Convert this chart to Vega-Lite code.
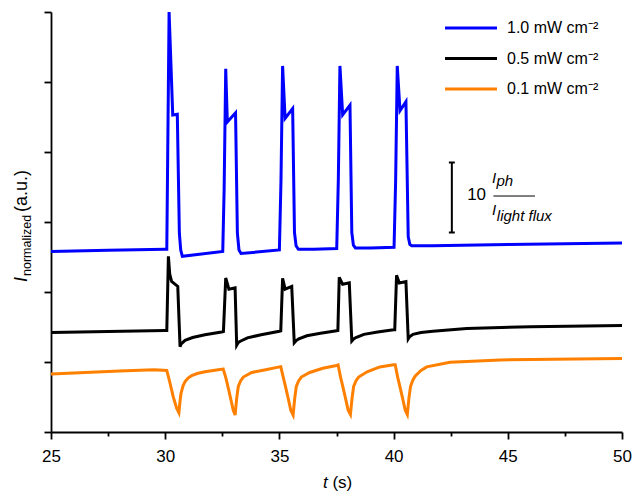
{
  "$schema": "https://vega.github.io/schema/vega-lite/v6.json",
  "width": 571,
  "height": 420,
  "autosize": {"type": "none"},
  "padding": {"left": 51, "top": 12, "right": 11, "bottom": 61},
  "config": {"view": {"stroke": null}, "font": "Liberation Sans"},
  "datasets": {
    "traces": [
      {"s": "1.0 mW cm⁻²", "t": 25.0, "v": 25.8},
      {"s": "1.0 mW cm⁻²", "t": 27.5, "v": 25.95},
      {"s": "1.0 mW cm⁻²", "t": 30.0, "v": 26.1},
      {"s": "1.0 mW cm⁻²", "t": 30.07, "v": 26.1},
      {"s": "1.0 mW cm⁻²", "t": 30.17, "v": 60},
      {"s": "1.0 mW cm⁻²", "t": 30.33, "v": 45.3},
      {"s": "1.0 mW cm⁻²", "t": 30.53, "v": 45.4},
      {"s": "1.0 mW cm⁻²", "t": 30.62, "v": 28.4},
      {"s": "1.0 mW cm⁻²", "t": 30.68, "v": 26.0},
      {"s": "1.0 mW cm⁻²", "t": 30.75, "v": 25.1},
      {"s": "1.0 mW cm⁻²", "t": 31.5, "v": 25.4},
      {"s": "1.0 mW cm⁻²", "t": 32.52, "v": 25.8},
      {"s": "1.0 mW cm⁻²", "t": 32.58, "v": 34.6},
      {"s": "1.0 mW cm⁻²", "t": 32.65, "v": 51.9},
      {"s": "1.0 mW cm⁻²", "t": 32.72, "v": 44.3},
      {"s": "1.0 mW cm⁻²", "t": 33.08, "v": 45.6},
      {"s": "1.0 mW cm⁻²", "t": 33.16, "v": 28.4},
      {"s": "1.0 mW cm⁻²", "t": 33.23, "v": 26.0},
      {"s": "1.0 mW cm⁻²", "t": 33.32, "v": 25.5},
      {"s": "1.0 mW cm⁻²", "t": 34.0, "v": 25.7},
      {"s": "1.0 mW cm⁻²", "t": 35.0, "v": 26.0},
      {"s": "1.0 mW cm⁻²", "t": 35.07, "v": 36},
      {"s": "1.0 mW cm⁻²", "t": 35.14, "v": 52.3},
      {"s": "1.0 mW cm⁻²", "t": 35.25, "v": 44.8},
      {"s": "1.0 mW cm⁻²", "t": 35.58, "v": 46.2},
      {"s": "1.0 mW cm⁻²", "t": 35.66, "v": 28.5},
      {"s": "1.0 mW cm⁻²", "t": 35.73, "v": 26.6},
      {"s": "1.0 mW cm⁻²", "t": 35.83, "v": 26.1},
      {"s": "1.0 mW cm⁻²", "t": 36.5, "v": 26.1},
      {"s": "1.0 mW cm⁻²", "t": 37.51, "v": 26.2},
      {"s": "1.0 mW cm⁻²", "t": 37.58, "v": 36},
      {"s": "1.0 mW cm⁻²", "t": 37.65, "v": 52.3},
      {"s": "1.0 mW cm⁻²", "t": 37.77, "v": 45.3},
      {"s": "1.0 mW cm⁻²", "t": 38.09, "v": 46.7},
      {"s": "1.0 mW cm⁻²", "t": 38.17, "v": 28.5},
      {"s": "1.0 mW cm⁻²", "t": 38.24, "v": 26.7},
      {"s": "1.0 mW cm⁻²", "t": 38.33, "v": 26.3},
      {"s": "1.0 mW cm⁻²", "t": 39.0, "v": 26.3},
      {"s": "1.0 mW cm⁻²", "t": 40.02, "v": 26.4},
      {"s": "1.0 mW cm⁻²", "t": 40.09, "v": 36},
      {"s": "1.0 mW cm⁻²", "t": 40.16, "v": 52.3},
      {"s": "1.0 mW cm⁻²", "t": 40.28, "v": 45.9},
      {"s": "1.0 mW cm⁻²", "t": 40.54, "v": 47.2},
      {"s": "1.0 mW cm⁻²", "t": 40.64, "v": 27.9},
      {"s": "1.0 mW cm⁻²", "t": 40.71, "v": 26.8},
      {"s": "1.0 mW cm⁻²", "t": 40.79, "v": 26.6},
      {"s": "1.0 mW cm⁻²", "t": 41.7, "v": 26.6},
      {"s": "1.0 mW cm⁻²", "t": 45.0, "v": 26.8},
      {"s": "1.0 mW cm⁻²", "t": 50.0, "v": 27.0},

      {"s": "0.5 mW cm⁻²", "t": 25.0, "v": 14.2},
      {"s": "0.5 mW cm⁻²", "t": 27.5, "v": 14.35},
      {"s": "0.5 mW cm⁻²", "t": 30.0, "v": 14.5},
      {"s": "0.5 mW cm⁻²", "t": 30.07, "v": 14.5},
      {"s": "0.5 mW cm⁻²", "t": 30.14, "v": 25.1},
      {"s": "0.5 mW cm⁻²", "t": 30.2, "v": 22.5},
      {"s": "0.5 mW cm⁻²", "t": 30.28, "v": 21.5},
      {"s": "0.5 mW cm⁻²", "t": 30.55, "v": 20.8},
      {"s": "0.5 mW cm⁻²", "t": 30.65, "v": 12.2},
      {"s": "0.5 mW cm⁻²", "t": 30.7, "v": 12.6},
      {"s": "0.5 mW cm⁻²", "t": 30.87, "v": 13.1},
      {"s": "0.5 mW cm⁻²", "t": 31.2, "v": 13.5},
      {"s": "0.5 mW cm⁻²", "t": 31.74, "v": 13.9},
      {"s": "0.5 mW cm⁻²", "t": 32.47, "v": 14.3},
      {"s": "0.5 mW cm⁻²", "t": 32.55, "v": 14.35},
      {"s": "0.5 mW cm⁻²", "t": 32.65, "v": 22.0},
      {"s": "0.5 mW cm⁻²", "t": 32.79, "v": 20.4},
      {"s": "0.5 mW cm⁻²", "t": 33.06, "v": 20.6},
      {"s": "0.5 mW cm⁻²", "t": 33.13, "v": 12.4},
      {"s": "0.5 mW cm⁻²", "t": 33.2, "v": 12.8},
      {"s": "0.5 mW cm⁻²", "t": 33.31, "v": 13.0},
      {"s": "0.5 mW cm⁻²", "t": 33.6, "v": 13.45},
      {"s": "0.5 mW cm⁻²", "t": 34.2, "v": 13.9},
      {"s": "0.5 mW cm⁻²", "t": 35.0, "v": 14.4},
      {"s": "0.5 mW cm⁻²", "t": 35.06, "v": 14.45},
      {"s": "0.5 mW cm⁻²", "t": 35.14, "v": 21.95},
      {"s": "0.5 mW cm⁻²", "t": 35.25, "v": 20.4},
      {"s": "0.5 mW cm⁻²", "t": 35.54, "v": 20.8},
      {"s": "0.5 mW cm⁻²", "t": 35.65, "v": 12.75},
      {"s": "0.5 mW cm⁻²", "t": 35.75, "v": 13.1},
      {"s": "0.5 mW cm⁻²", "t": 35.85, "v": 13.3},
      {"s": "0.5 mW cm⁻²", "t": 36.2, "v": 13.75},
      {"s": "0.5 mW cm⁻²", "t": 36.8, "v": 14.1},
      {"s": "0.5 mW cm⁻²", "t": 37.5, "v": 14.45},
      {"s": "0.5 mW cm⁻²", "t": 37.56, "v": 14.5},
      {"s": "0.5 mW cm⁻²", "t": 37.62, "v": 22.1},
      {"s": "0.5 mW cm⁻²", "t": 37.77, "v": 21.1},
      {"s": "0.5 mW cm⁻²", "t": 38.06, "v": 21.3},
      {"s": "0.5 mW cm⁻²", "t": 38.17, "v": 13.0},
      {"s": "0.5 mW cm⁻²", "t": 38.25, "v": 13.3},
      {"s": "0.5 mW cm⁻²", "t": 38.35, "v": 13.5},
      {"s": "0.5 mW cm⁻²", "t": 38.7, "v": 13.95},
      {"s": "0.5 mW cm⁻²", "t": 39.3, "v": 14.3},
      {"s": "0.5 mW cm⁻²", "t": 40.0, "v": 14.6},
      {"s": "0.5 mW cm⁻²", "t": 40.05, "v": 14.6},
      {"s": "0.5 mW cm⁻²", "t": 40.13, "v": 22.4},
      {"s": "0.5 mW cm⁻²", "t": 40.25, "v": 21.3},
      {"s": "0.5 mW cm⁻²", "t": 40.54, "v": 21.5},
      {"s": "0.5 mW cm⁻²", "t": 40.64, "v": 13.3},
      {"s": "0.5 mW cm⁻²", "t": 40.7, "v": 13.6},
      {"s": "0.5 mW cm⁻²", "t": 40.85, "v": 13.96},
      {"s": "0.5 mW cm⁻²", "t": 41.2, "v": 14.2},
      {"s": "0.5 mW cm⁻²", "t": 41.72, "v": 14.4},
      {"s": "0.5 mW cm⁻²", "t": 43.2, "v": 14.8},
      {"s": "0.5 mW cm⁻²", "t": 46.0, "v": 15.05},
      {"s": "0.5 mW cm⁻²", "t": 50.0, "v": 15.2},

      {"s": "0.1 mW cm⁻²", "t": 25.0, "v": 8.3},
      {"s": "0.1 mW cm⁻²", "t": 26.5, "v": 8.5},
      {"s": "0.1 mW cm⁻²", "t": 28.0, "v": 8.7},
      {"s": "0.1 mW cm⁻²", "t": 29.5, "v": 8.9},
      {"s": "0.1 mW cm⁻²", "t": 30.07, "v": 8.8},
      {"s": "0.1 mW cm⁻²", "t": 30.21, "v": 7.0},
      {"s": "0.1 mW cm⁻²", "t": 30.35, "v": 5.05},
      {"s": "0.1 mW cm⁻²", "t": 30.5, "v": 3.4},
      {"s": "0.1 mW cm⁻²", "t": 30.6, "v": 2.76},
      {"s": "0.1 mW cm⁻²", "t": 30.65, "v": 4.4},
      {"s": "0.1 mW cm⁻²", "t": 30.69, "v": 5.5},
      {"s": "0.1 mW cm⁻²", "t": 30.78, "v": 6.6},
      {"s": "0.1 mW cm⁻²", "t": 30.87, "v": 7.2},
      {"s": "0.1 mW cm⁻²", "t": 31.0, "v": 7.7},
      {"s": "0.1 mW cm⁻²", "t": 31.16, "v": 8.05},
      {"s": "0.1 mW cm⁻²", "t": 31.4, "v": 8.35},
      {"s": "0.1 mW cm⁻²", "t": 31.74, "v": 8.6},
      {"s": "0.1 mW cm⁻²", "t": 32.47, "v": 8.95},
      {"s": "0.1 mW cm⁻²", "t": 32.54, "v": 9.0},
      {"s": "0.1 mW cm⁻²", "t": 32.65, "v": 7.8},
      {"s": "0.1 mW cm⁻²", "t": 32.76, "v": 6.3},
      {"s": "0.1 mW cm⁻²", "t": 32.88, "v": 4.57},
      {"s": "0.1 mW cm⁻²", "t": 32.98, "v": 3.1},
      {"s": "0.1 mW cm⁻²", "t": 33.06, "v": 2.43},
      {"s": "0.1 mW cm⁻²", "t": 33.13, "v": 4.8},
      {"s": "0.1 mW cm⁻²", "t": 33.2, "v": 6.5},
      {"s": "0.1 mW cm⁻²", "t": 33.3, "v": 7.3},
      {"s": "0.1 mW cm⁻²", "t": 33.42, "v": 7.85},
      {"s": "0.1 mW cm⁻²", "t": 33.79, "v": 8.5},
      {"s": "0.1 mW cm⁻²", "t": 34.4, "v": 8.9},
      {"s": "0.1 mW cm⁻²", "t": 35.0, "v": 9.3},
      {"s": "0.1 mW cm⁻²", "t": 35.06, "v": 9.33},
      {"s": "0.1 mW cm⁻²", "t": 35.17, "v": 7.8},
      {"s": "0.1 mW cm⁻²", "t": 35.28, "v": 6.3},
      {"s": "0.1 mW cm⁻²", "t": 35.4, "v": 4.6},
      {"s": "0.1 mW cm⁻²", "t": 35.5, "v": 3.1},
      {"s": "0.1 mW cm⁻²", "t": 35.6, "v": 2.43},
      {"s": "0.1 mW cm⁻²", "t": 35.67, "v": 4.8},
      {"s": "0.1 mW cm⁻²", "t": 35.74, "v": 6.5},
      {"s": "0.1 mW cm⁻²", "t": 35.84, "v": 7.3},
      {"s": "0.1 mW cm⁻²", "t": 35.96, "v": 7.85},
      {"s": "0.1 mW cm⁻²", "t": 36.33, "v": 8.5},
      {"s": "0.1 mW cm⁻²", "t": 36.9, "v": 9.1},
      {"s": "0.1 mW cm⁻²", "t": 37.5, "v": 9.5},
      {"s": "0.1 mW cm⁻²", "t": 37.57, "v": 9.57},
      {"s": "0.1 mW cm⁻²", "t": 37.68, "v": 7.8},
      {"s": "0.1 mW cm⁻²", "t": 37.79, "v": 6.3},
      {"s": "0.1 mW cm⁻²", "t": 37.91, "v": 4.6},
      {"s": "0.1 mW cm⁻²", "t": 38.01, "v": 3.1},
      {"s": "0.1 mW cm⁻²", "t": 38.11, "v": 2.5},
      {"s": "0.1 mW cm⁻²", "t": 38.18, "v": 4.8},
      {"s": "0.1 mW cm⁻²", "t": 38.25, "v": 6.5},
      {"s": "0.1 mW cm⁻²", "t": 38.35, "v": 7.3},
      {"s": "0.1 mW cm⁻²", "t": 38.47, "v": 7.85},
      {"s": "0.1 mW cm⁻²", "t": 38.84, "v": 8.6},
      {"s": "0.1 mW cm⁻²", "t": 39.4, "v": 9.3},
      {"s": "0.1 mW cm⁻²", "t": 40.0, "v": 9.6},
      {"s": "0.1 mW cm⁻²", "t": 40.07, "v": 9.6},
      {"s": "0.1 mW cm⁻²", "t": 40.18, "v": 7.8},
      {"s": "0.1 mW cm⁻²", "t": 40.29, "v": 6.3},
      {"s": "0.1 mW cm⁻²", "t": 40.41, "v": 4.6},
      {"s": "0.1 mW cm⁻²", "t": 40.51, "v": 3.1},
      {"s": "0.1 mW cm⁻²", "t": 40.6, "v": 2.5},
      {"s": "0.1 mW cm⁻²", "t": 40.67, "v": 4.8},
      {"s": "0.1 mW cm⁻²", "t": 40.74, "v": 6.5},
      {"s": "0.1 mW cm⁻²", "t": 40.84, "v": 7.4},
      {"s": "0.1 mW cm⁻²", "t": 40.95, "v": 8.0},
      {"s": "0.1 mW cm⁻²", "t": 41.2, "v": 8.8},
      {"s": "0.1 mW cm⁻²", "t": 41.45, "v": 9.3},
      {"s": "0.1 mW cm⁻²", "t": 42.47, "v": 9.95},
      {"s": "0.1 mW cm⁻²", "t": 44.66, "v": 10.3},
      {"s": "0.1 mW cm⁻²", "t": 50.0, "v": 10.5}
    ]
  },
  "layer": [
    {
      "data": {"name": "traces"},
      "mark": {"type": "line", "strokeWidth": 3, "interpolate": "linear"},
      "encoding": {
        "x": {
          "field": "t", "type": "quantitative",
          "scale": {"domain": [25, 50], "nice": false, "zero": false},
          "axis": {
            "values": [25, 27.5, 30, 32.5, 35, 37.5, 40, 42.5, 45, 47.5, 50],
            "labelExpr": "datum.value % 5 === 0 ? datum.label : ''",
            "tickSize": {"condition": {"test": "datum.value % 5 === 0", "value": 7}, "value": 4},
            "title": null, "grid": false,
            "domainColor": "black", "tickColor": "black",
            "domainWidth": 1.8, "tickWidth": 1.8,
            "labelFontSize": 17, "labelColor": "black", "labelPadding": 9.5,
            "labelFlush": false, "labelFont": "Liberation Sans"
          }
        },
        "y": {
          "field": "v", "type": "quantitative",
          "scale": {"domain": [0, 60], "nice": false, "zero": false},
          "axis": {
            "values": [0, 10, 20, 30, 40, 50, 60],
            "labels": false, "tickSize": 7, "title": null, "grid": false,
            "domainColor": "black", "tickColor": "black",
            "domainWidth": 1.8, "tickWidth": 1.8
          }
        },
        "color": {
          "field": "s", "type": "nominal",
          "scale": {
            "domain": ["1.0 mW cm⁻²", "0.5 mW cm⁻²", "0.1 mW cm⁻²"],
            "range": ["#0000ff", "#000000", "#ff8000"]
          },
          "legend": {
            "orient": "none", "legendX": 392.5, "legendY": 6,
            "title": null, "symbolType": "stroke", "symbolSize": 2704,
            "symbolStrokeWidth": 3, "labelFontSize": 16, "labelFont": "Liberation Sans",
            "labelColor": "black", "labelOffset": 8.5, "clipHeight": 20,
            "rowPadding": 10.5, "padding": 0
          }
        },
        "order": {"field": "t", "type": "quantitative"}
      }
    },
    {
      "data": {"values": [{"t": 42.55, "v": 28.5, "v2": 38.5}]},
      "mark": {"type": "rule", "strokeWidth": 2, "color": "black"},
      "encoding": {
        "x": {"field": "t", "type": "quantitative"},
        "y": {"field": "v", "type": "quantitative"},
        "y2": {"field": "v2"}
      }
    },
    {
      "data": {"values": [
        {"t": 42.42, "t2": 42.68, "v": 28.5},
        {"t": 42.42, "t2": 42.68, "v": 38.5}
      ]},
      "mark": {"type": "rule", "strokeWidth": 2, "color": "black"},
      "encoding": {
        "x": {"field": "t", "type": "quantitative"},
        "x2": {"field": "t2"},
        "y": {"field": "v", "type": "quantitative"}
      }
    },
    {
      "data": {"values": [{"t": 44.37, "t2": 46.19, "v": 33.71}]},
      "mark": {"type": "rule", "strokeWidth": 1, "color": "black"},
      "encoding": {
        "x": {"field": "t", "type": "quantitative"},
        "x2": {"field": "t2"},
        "y": {"field": "v", "type": "quantitative"}
      }
    },
    {
      "data": {"values": [{"t": 43.22, "v": 33.1, "label": "10"}]},
      "mark": {"type": "text", "fontSize": 17, "align": "left", "baseline": "alphabetic", "color": "black", "font": "Liberation Sans"},
      "encoding": {
        "x": {"field": "t", "type": "quantitative"},
        "y": {"field": "v", "type": "quantitative"},
        "text": {"field": "label"}
      }
    },
    {
      "data": {"values": [
        {"t": 44.31, "v": 35.53, "label": "I"},
        {"t": 44.31, "v": 31.0, "label": "I"}
      ]},
      "mark": {"type": "text", "fontSize": 15, "fontStyle": "italic", "align": "left", "baseline": "alphabetic", "color": "black", "font": "Liberation Sans"},
      "encoding": {
        "x": {"field": "t", "type": "quantitative"},
        "y": {"field": "v", "type": "quantitative"},
        "text": {"field": "label"}
      }
    },
    {
      "data": {"values": [
        {"t": 44.5, "v": 35.1, "label": "ph"},
        {"t": 44.52, "v": 30.09, "label": "light flux"}
      ]},
      "mark": {"type": "text", "fontSize": 15, "fontStyle": "italic", "align": "left", "baseline": "alphabetic", "color": "black", "font": "Liberation Sans"},
      "encoding": {
        "x": {"field": "t", "type": "quantitative"},
        "y": {"field": "v", "type": "quantitative"},
        "text": {"field": "label"}
      }
    },
    {
      "data": {"values": [{"t": 36.91, "v": -8.0, "label": "t"}]},
      "mark": {"type": "text", "fontSize": 17, "fontStyle": "italic", "align": "left", "baseline": "alphabetic", "color": "black", "font": "Liberation Sans"},
      "encoding": {
        "x": {"field": "t", "type": "quantitative"},
        "y": {"field": "v", "type": "quantitative"},
        "text": {"field": "label"}
      }
    },
    {
      "data": {"values": [{"t": 37.32, "v": -8.0, "label": "(s)"}]},
      "mark": {"type": "text", "fontSize": 17, "align": "left", "baseline": "alphabetic", "color": "black", "font": "Liberation Sans"},
      "encoding": {
        "x": {"field": "t", "type": "quantitative"},
        "y": {"field": "v", "type": "quantitative"},
        "text": {"field": "label"}
      }
    },
    {
      "data": {"values": [{"t": 23.95, "v": 21.43, "label": "I"}]},
      "mark": {"type": "text", "fontSize": 18, "fontStyle": "italic", "angle": 270, "align": "left", "baseline": "alphabetic", "color": "black", "font": "Liberation Sans"},
      "encoding": {
        "x": {"field": "t", "type": "quantitative"},
        "y": {"field": "v", "type": "quantitative"},
        "text": {"field": "label"}
      }
    },
    {
      "data": {"values": [{"t": 24.11, "v": 22.29, "label": "normalized"}]},
      "mark": {"type": "text", "fontSize": 12.5, "angle": 270, "align": "left", "baseline": "alphabetic", "color": "black", "font": "Liberation Sans"},
      "encoding": {
        "x": {"field": "t", "type": "quantitative"},
        "y": {"field": "v", "type": "quantitative"},
        "text": {"field": "label"}
      }
    },
    {
      "data": {"values": [{"t": 23.95, "v": 31.43, "label": "(a.u.)"}]},
      "mark": {"type": "text", "fontSize": 18, "angle": 270, "align": "left", "baseline": "alphabetic", "color": "black", "font": "Liberation Sans"},
      "encoding": {
        "x": {"field": "t", "type": "quantitative"},
        "y": {"field": "v", "type": "quantitative"},
        "text": {"field": "label"}
      }
    }
  ]
}
